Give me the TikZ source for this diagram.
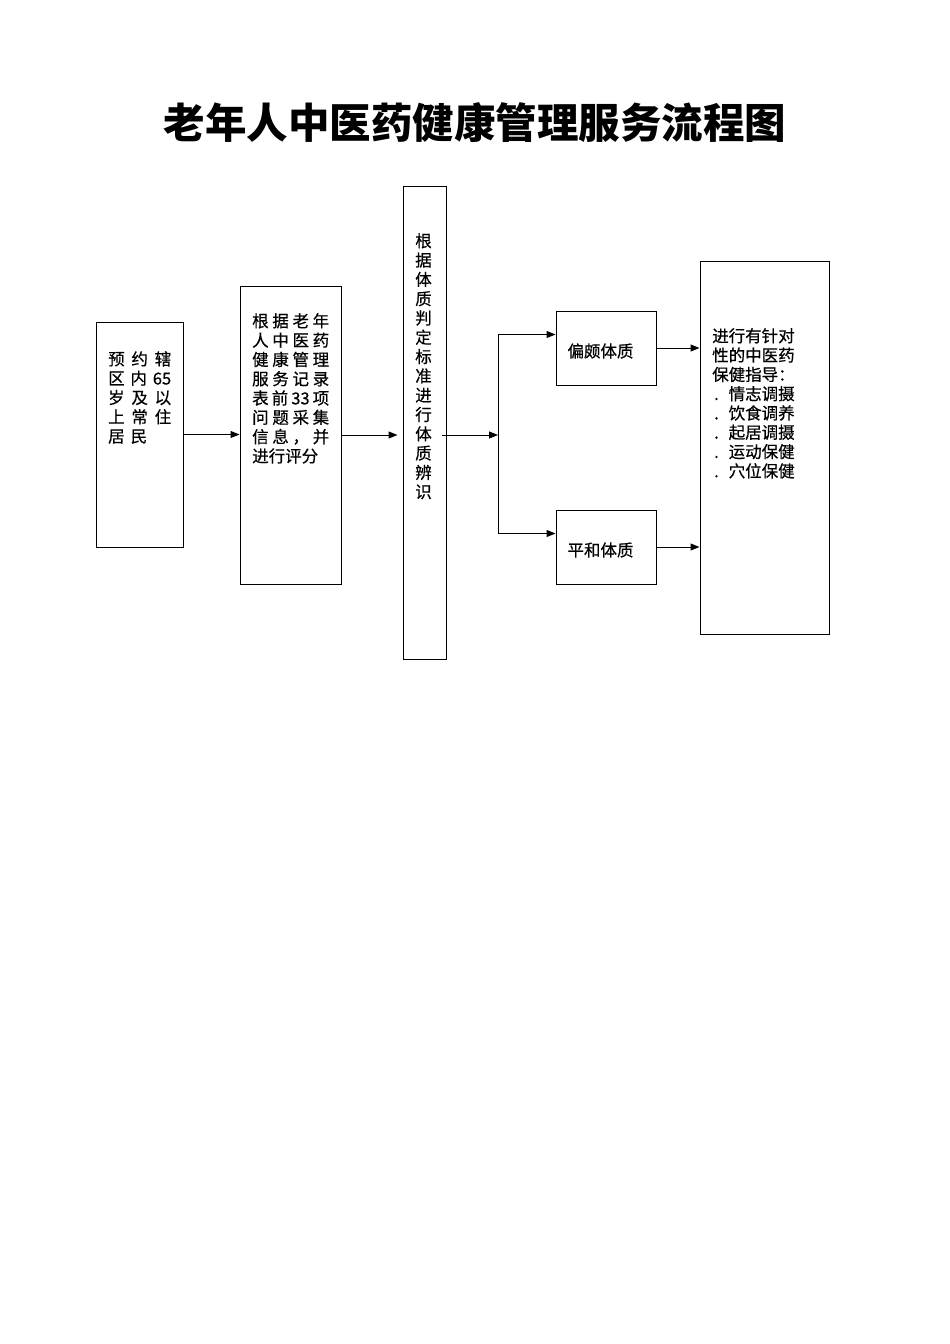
\documentclass[tikz,border=0pt]{standalone}
\usepackage{fontspec}
\setmainfont{Noto Sans CJK SC}
\newfontfamily\bodyfont[FakeBold=0.5]{Noto Sans CJK SC}
\usetikzlibrary{arrows.meta}
\tikzset{
  box/.style={draw, line width=1pt, inner sep=0pt},
  txt/.style={inner sep=0pt, align=left, font=\bodyfont\fontsize{16.5}{19.3}\selectfont},
  arr/.style={line width=1pt, -{Triangle[length=9pt,width=7pt]}},
  conn/.style={line width=1pt}
}
\begin{document}
\begin{tikzpicture}[x=1pt,y=-1pt]
\useasboundingbox (0,0) rectangle (950,1344);
% title
\node[inner sep=0pt, font=\fontsize{41.5}{44}\selectfont\bfseries] (title) at (475,123) {老年人中医药健康管理服务流程图};
% boxes
\node[box, minimum width=87pt, minimum height=225pt] (b1) at (139.5,434.5) {};
\node[box, minimum width=101pt, minimum height=298pt] (b2) at (290.5,435) {};
\node[box, minimum width=43pt, minimum height=473pt] (b3) at (424.5,422.5) {};
\node[box, minimum width=100pt, minimum height=74pt] (b4) at (606,348) {};
\node[box, minimum width=100pt, minimum height=74pt] (b5) at (606,547) {};
\node[box, minimum width=129pt, minimum height=373pt] (b6) at (764.5,447.5) {};
% texts
\node[txt, anchor=north west] (t1) at (108,351) {%
\makebox[63pt][l]{预\hfill 约\hfill 辖}\\
\makebox[63pt][l]{区\hfill 内\hfill 65}\\
\makebox[63pt][l]{岁\hfill 及\hfill 以}\\
\makebox[63pt][l]{上\hfill 常\hfill 住}\\
\makebox[63pt][l]{居\hspace{6pt}民}};
\node[txt, anchor=north west] (t2) at (252,313) {%
\makebox[77pt][l]{根\hfill 据\hfill 老\hfill 年}\\
\makebox[77pt][l]{人\hfill 中\hfill 医\hfill 药}\\
\makebox[77pt][l]{健\hfill 康\hfill 管\hfill 理}\\
\makebox[77pt][l]{服\hfill 务\hfill 记\hfill 录}\\
\makebox[77pt][l]{表\hfill 前\hfill 33\hfill 项}\\
\makebox[77pt][l]{问\hfill 题\hfill 采\hfill 集}\\
\makebox[77pt][l]{信\hfill 息\hfill ，\hfill 并}\\
进行评分};
\node[txt, anchor=north, align=center] (t3) at (423.5,233) {根\\据\\体\\质\\判\\定\\标\\准\\进\\行\\体\\质\\辨\\识};
\node[txt, anchor=center] (t4) at (600.5,351) {偏颇体质};
\node[txt, anchor=center] (t5) at (600.5,550) {平和体质};
\node[txt, anchor=north west] (t6) at (712,328) {%
进行有针对\\
性的中医药\\
保健指导：\\
\makebox[16.5pt][l]{\hspace{2pt}.}情志调摄\\
\makebox[16.5pt][l]{\hspace{2pt}.}饮食调养\\
\makebox[16.5pt][l]{\hspace{2pt}.}起居调摄\\
\makebox[16.5pt][l]{\hspace{2pt}.}运动保健\\
\makebox[16.5pt][l]{\hspace{2pt}.}穴位保健};
% connectors
\coordinate (j) at (498,435);
\draw[arr] (b1.east) -- (b1.east -| b2.west);
\draw[arr, shorten >=5pt] (b2.east) -- (b2.east -| b3.west);
\draw[arr] ([xshift=-5pt]b3.east |- j) -- (j);
\draw[arr] (j) |- ([yshift=-24pt]b4.north west);
\draw[arr] (j) |- ([yshift=-24pt]b5.north west);
\draw[arr] (b4.east) -- (b4.east -| b6.west);
\draw[arr] (b5.east) -- (b5.east -| b6.west);
\end{tikzpicture}
\end{document}
